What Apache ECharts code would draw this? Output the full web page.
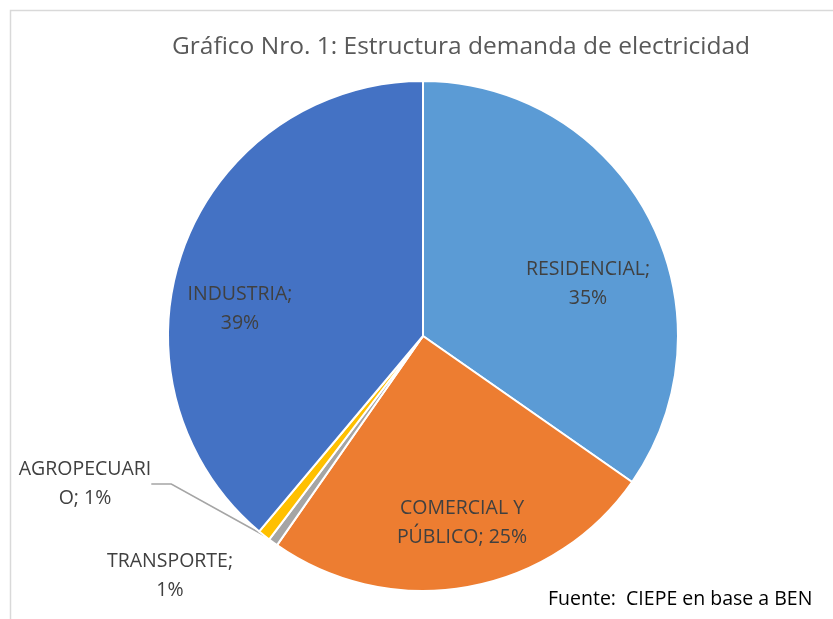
<!DOCTYPE html>
<html>
<head>
<meta charset="utf-8">
<script src="https://cdn.jsdelivr.net/npm/echarts@6/dist/echarts.min.js"></script>
<style>
  html, body { margin: 0; padding: 0; background: #fff; }
  #chart { width: 833px; height: 619px; }
</style>
</head>
<body>
<div id="chart"></div>
<script>
// sectors of electricity demand, clockwise from 12 o'clock
const categories = ['RESIDENCIAL', 'COMERCIAL Y PÚBLICO', 'TRANSPORTE', 'AGROPECUARIO', 'INDUSTRIA'];
const shares = [34.7, 25.0, 0.6, 0.8, 38.9];

const colors = ['#5B9BD5', '#ED7D31', '#A5A5A5', '#FFC000', '#4472C4'];
// where Excel wraps each label (char index)
const wrapAt = [12, 11, 11, 11, 10];
// label centres, offset from pie centre (px)
const labelOffsets = [[165, -52], [39, 187], [-253, 240], [-338, 148], [-183, -27]];

const center = [423, 336];
const radius = 255;

const myChart = echarts.init(document.getElementById('chart'));

const option = {
  animation: false,
  title: {
    text: 'Gráfico Nro. 1: Estructura demanda de electricidad',
    left: 167,
    top: 30,
    textStyle: {
      fontFamily: 'Open Sans',
      fontWeight: 'normal',
      fontSize: 24.5,
      color: '#595959'
    }
  },
  graphic: [
    {
      type: 'rect',
      shape: { x: 10.5, y: 10.5, width: 900, height: 700 },
      style: { fill: 'none', stroke: '#D9D9D9', lineWidth: 1.5 },
      silent: true
    },
    {
      type: 'text',
      left: 548,
      top: 589,
      style: {
        text: 'Fuente:  CIEPE en base a BEN',
        font: '19.5px "Open Sans"',
        fill: '#000'
      }
    }
  ],
  series: [
    {
      type: 'pie',
      center: center,
      radius: radius,
      startAngle: 90,
      clockwise: true,
      avoidLabelOverlap: false,
      itemStyle: { borderColor: '#fff', borderWidth: 2 },
      label: {
        fontFamily: 'Open Sans',
        fontSize: 19.5,
        color: '#404040',
        lineHeight: 29,
        align: 'center',
        formatter: (p) => {
          const t = p.name + '; ' + Math.round(p.percent) + '%';
          const i = wrapAt[p.dataIndex];
          return t.slice(0, i).trim() + '\n' + t.slice(i).trim();
        }
      },
      labelLine: { lineStyle: { color: '#A5A5A5', width: 1.5 }, length: 20, length2: 20 },
      labelLayout: (params) => {
        const o = labelOffsets[params.dataIndex];
        return {
          x: center[0] + o[0],
          y: center[1] + o[1],
          align: 'center',
          verticalAlign: 'middle'
        };
      },
      data: categories.map((name, i) => ({
        name: name,
        value: shares[i],
        itemStyle: { color: colors[i] },
        label: { position: i === 3 ? 'outside' : 'inside' },
        labelLine: { show: i === 3 }
      }))
    }
  ]
};

myChart.setOption(option);
</script>
</body>
</html>
